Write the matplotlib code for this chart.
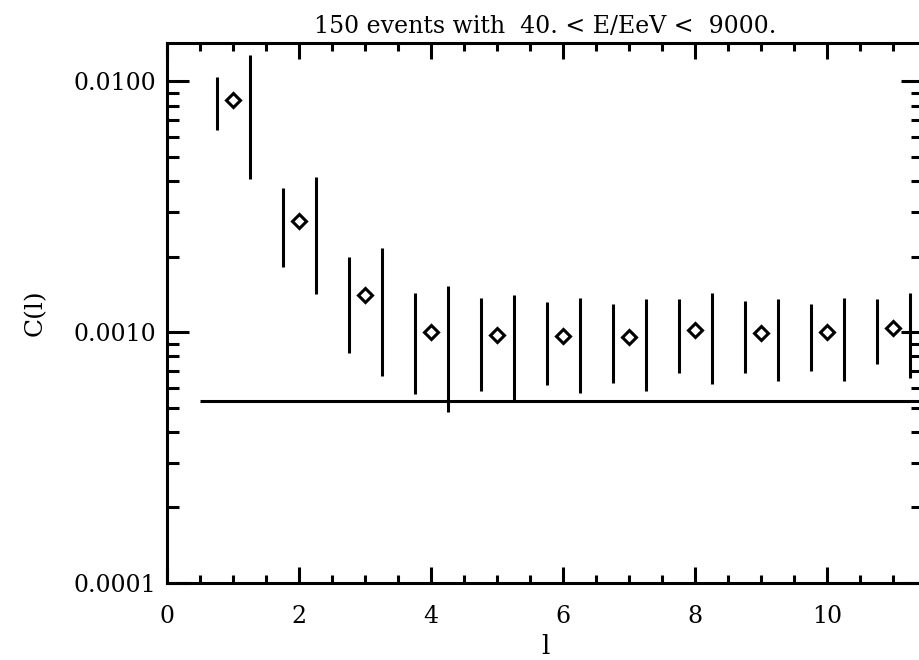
import numpy as np
import matplotlib
matplotlib.use("Agg")
import matplotlib.pyplot as plt
from matplotlib.ticker import FixedLocator, LogLocator, NullFormatter, FixedFormatter

# Angular power spectrum C(l) of the arrival directions
ell = [1, 2, 3, 4, 5, 6, 7, 8, 9, 10, 11]
c_ell = [0.0084, 0.00278, 0.00140, 0.00100, 0.000973, 0.000964, 0.00096,
         0.00102, 0.00099, 0.00100, 0.00104]

# Two uncertainty bands per multipole (drawn left and right of the point)
band_a_lo = [0.00637, 0.00181, 0.000822, 0.000569, 0.000585, 0.000616, 0.000624,
             0.000684, 0.000684, 0.000703, 0.000743]
band_a_hi = [0.0104, 0.00377, 0.00200, 0.00143, 0.00137, 0.00132, 0.00130,
             0.00136, 0.00133, 0.00130, 0.00136]
band_b_lo = [0.00406, 0.00142, 0.000667, 0.000479, 0.000533, 0.000574, 0.000585,
             0.000621, 0.000641, 0.000641, 0.000656]
band_b_hi = [0.0127, 0.00414, 0.00216, 0.00153, 0.00141, 0.00137, 0.00136,
             0.00143, 0.00136, 0.00137, 0.00143]

# Expected level for an isotropic sky
iso_level = 0.00053
iso_start = 0.5

title = "150 events with  40. < E/EeV <  9000."
xlabel = "l"
ylabel = "C(l)"
xticks = [0, 2, 4, 6, 8, 10]
yticks = [0.0001, 0.0010, 0.0100]
ytick_labels = ["0.0001", "0.0010", "0.0100"]

plt.rcParams["font.family"] = ["DejaVu Serif"]

W, H = 919, 660
fig = plt.figure(figsize=(W / 100, H / 100), dpi=100)
left, right, bottom, top = 167, 923, 583, 43
ax = fig.add_axes([left / W, (H - bottom) / H, (right - left) / W, (bottom - top) / H])

lw = 2.2
x = np.array(ell, dtype=float)
ax.vlines(x - 0.25, band_a_lo, band_a_hi, color="black", lw=lw)
ax.vlines(x + 0.25, band_b_lo, band_b_hi, color="black", lw=lw)
ax.plot(x, c_ell, linestyle="none", marker="D", markersize=7,
        markerfacecolor="white", markeredgecolor="black", markeredgewidth=2.2)
ax.hlines(iso_level, iso_start, 20, color="black", lw=lw)

ax.set_yscale("log")
ax.set_xlim(0, 11.45)
ax.set_ylim(1e-4, 0.0142)

ax.xaxis.set_major_locator(FixedLocator(xticks))
ax.xaxis.set_minor_locator(FixedLocator(np.arange(0, 12, 0.5)))
ax.yaxis.set_major_locator(FixedLocator(yticks))
ax.yaxis.set_major_formatter(FixedFormatter(ytick_labels))
ax.yaxis.set_minor_locator(LogLocator(base=10, subs=np.arange(2, 10)))
ax.yaxis.set_minor_formatter(NullFormatter())

ax.tick_params(axis="x", which="major", direction="in", length=11.5, width=lw,
               top=True, bottom=True, labelsize=17, pad=16)
ax.tick_params(axis="x", which="minor", direction="in", length=5.8, width=lw,
               top=True, bottom=True)
ax.tick_params(axis="y", which="major", direction="in", length=15.8, width=lw,
               left=True, right=True, labelsize=17, pad=8)
ax.tick_params(axis="y", which="minor", direction="in", length=8.6, width=lw,
               left=True, right=True)

for s in ax.spines.values():
    s.set_linewidth(lw)

ax.set_title(title, fontsize=17, pad=7)
ax.set_xlabel(xlabel, fontsize=19, labelpad=4)
ax.set_ylabel(ylabel, fontsize=18)
ax.yaxis.set_label_coords(-0.159, 0.5)

fig.savefig("out.png", dpi=100)
